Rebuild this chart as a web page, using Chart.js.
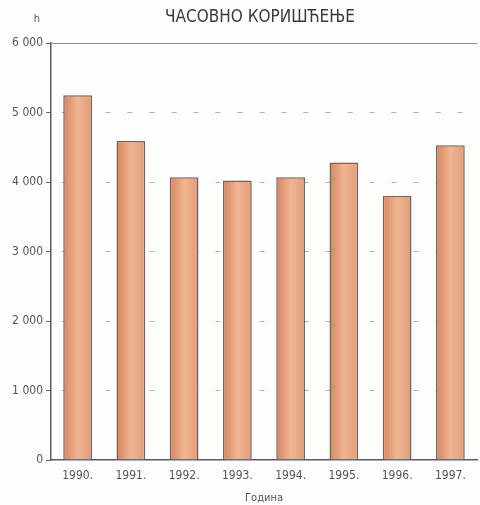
<!DOCTYPE html>
<html>
<head>
<meta charset="utf-8">
<script src="https://cdn.jsdelivr.net/npm/chart.js@4/dist/chart.umd.min.js"></script>
<style>
  html, body { margin: 0; padding: 0; background: #fdfdfc; }
  #wrap { width: 480px; height: 505px; }
</style>
</head>
<body>
<div id="wrap"><canvas id="bar-chart"></canvas></div>
<script>
var years = ['1990.', '1991.', '1992.', '1993.', '1994.', '1995.', '1996.', '1997.'];
var hours = [5250, 4590, 4070, 4020, 4070, 4280, 3800, 4530];
var yTicks = [0, 1000, 2000, 3000, 4000, 5000, 6000];

var FONT = "'Liberation Sans Narrow', 'Arial Narrow', 'DejaVu Sans Condensed', 'Liberation Sans', Arial, sans-serif";
var BAR_SHARE = 0.54;

function formatThousands(v) {
    return String(v).replace(/\B(?=(\d{3})+(?!\d))/g, ' ');
}

// horizontal shading across each bar, worked out from the x scale
function barFill(c) {
    var chart = c.chart;
    var xs = chart.scales.x;
    if (!xs || c.dataIndex === undefined) return '#e9a47f';
    var mid = xs.getPixelForValue(c.dataIndex);
    var w = xs.width / years.length * BAR_SHARE;
    if (!isFinite(mid) || !isFinite(w) || w <= 0) return '#e9a47f';
    var g = chart.ctx.createLinearGradient(mid - w / 2, 0, mid + w / 2, 0);
    g.addColorStop(0, '#d8845d');
    g.addColorStop(0.5, '#efb592');
    g.addColorStop(1, '#e49c78');
    return g;
}

// title and unit label above the axis
var headings = {
    id: 'headings',
    afterDraw: function (chart) {
        var ctx = chart.ctx;
        ctx.save();
        ctx.fillStyle = '#3a3a3a';
        ctx.textBaseline = 'middle';
        ctx.textAlign = 'center';
        ctx.font = '17px ' + FONT;
        ctx.fillText('ЧАСОВНО КОРИШЋЕЊЕ', 260, 18);
        ctx.textAlign = 'right';
        ctx.font = '11px ' + FONT;
        ctx.fillStyle = '#555';
        ctx.fillText('h', 40, 19);
        ctx.restore();
    }
};

new Chart(document.getElementById('bar-chart'), {
    type: 'bar',
    data: {
        labels: years,
        datasets: [{
            data: hours,
            backgroundColor: barFill,
            borderColor: '#6c6466',
            borderWidth: 1.5,
            borderSkipped: 'bottom',
            categoryPercentage: BAR_SHARE,
            barPercentage: 1
        }]
    },
    options: {
        responsive: true,
        maintainAspectRatio: false,
        animation: false,
        layout: { padding: { top: 43, right: 3, left: 0, bottom: 0 } },
        plugins: {
            legend: { display: false },
            tooltip: { enabled: false },
            title: { display: false }
        },
        scales: {
            x: {
                grid: { display: false },
                border: { display: true, color: '#5a5a6a', width: 1.5 },
                ticks: {
                    color: '#555',
                    font: { family: FONT, size: 12 },
                    padding: 1,
                    maxRotation: 0
                },
                title: {
                    display: true,
                    text: 'Година',
                    color: '#555',
                    font: { family: FONT, size: 11 },
                    padding: { top: 4, bottom: 0 }
                },
                afterFit: function (scale) { scale.height = 45; }
            },
            y: {
                min: 0,
                max: 6000,
                afterBuildTicks: function (scale) {
                    scale.ticks = yTicks.map(function (v) { return { value: v }; });
                },
                grid: {
                    color: function (c) {
                        if (c.tick && c.tick.value === 0) return 'rgba(0,0,0,0)';
                        if (c.tick && c.tick.value === 6000) return '#8a8a8a';
                        return '#b0b0b0';
                    },
                    tickColor: '#6a6a6a',
                    tickLength: 5,
                    lineWidth: 1
                },
                border: {
                    display: true,
                    color: '#5a5a6a',
                    width: 1.5,
                    dash: function (c) {
                        return (c.tick && c.tick.value === 6000) ? [] : [5, 17];
                    },
                    dashOffset: -10
                },
                ticks: {
                    color: '#555',
                    font: { family: FONT, size: 12 },
                    padding: 3,
                    callback: function (v) { return formatThousands(v); }
                },
                afterFit: function (scale) { scale.width = 51; }
            }
        }
    },
    plugins: [headings]
});
</script>
</body>
</html>
